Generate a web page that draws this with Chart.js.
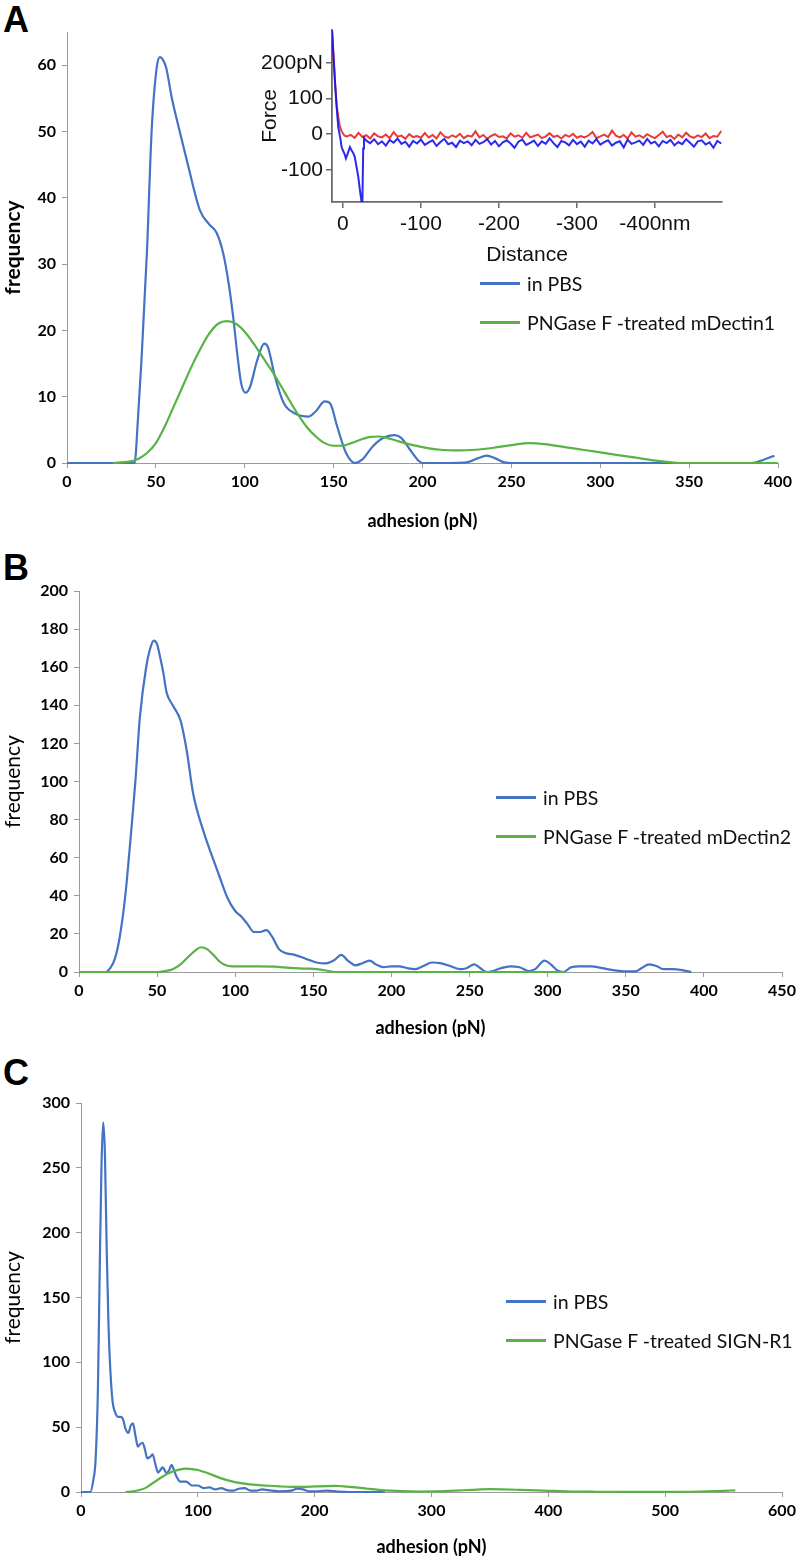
<!DOCTYPE html>
<html>
<head>
<meta charset="utf-8">
<script src="https://cdn.jsdelivr.net/npm/chart.js@4.4.1/dist/chart.umd.min.js"></script>
<style>
  html, body { margin:0; padding:0; background:#fff; }
  body { width:800px; height:1562px; position:relative; overflow:hidden; font-family:Lato, sans-serif; }
  canvas { position:absolute; }
  .letter { position:absolute; left:3px; font:bold 36px "Liberation Sans", Arial, sans-serif; line-height:36px; color:#000; }
  .lg-row { position:absolute; height:22px; line-height:22px; white-space:nowrap; font:19.5px Lato, sans-serif; color:#111; }
  .lg-row i { position:absolute; left:0; top:10px; width:40px; height:3px; }
  .lg-row span { position:absolute; left:47px; top:0; }
</style>
</head>
<body>
<div class="letter" style="top:2px">A</div>
<div class="letter" style="top:550px">B</div>
<div class="letter" style="top:1055px">C</div>
<canvas id="cA" width="800" height="540" style="left:0;top:0"></canvas>
<canvas id="cInset" width="480" height="262" style="left:250px;top:8px"></canvas>
<canvas id="cB" width="800" height="487" style="left:0;top:560px"></canvas>
<canvas id="cC" width="800" height="502" style="left:0;top:1060px"></canvas>
<div id="legends"></div>
<script>
// ---- panel A : mDectin1 ----
const ADH_A_PBS  = [0,38,40,42,45,47.6,50.5,52.3,54,55.8,59,63.6,68,74.8,80,84.2,87.9,91,93.5,96.2,98,100.5,103,107,111,113,117,122,128,136,140,145,148,152,157,162,166,172,178,184,188,193,198,200,215,225,231,236,241,246,250,385,392,398];
const FREQ_A_PBS = [0,0,7,16,32,50,59.7,61.2,60.8,59.6,55,49.8,45,38.1,36,34.7,31.6,27,22,15.5,12,10.6,11.5,15.5,18,17.5,13,9,7.5,7,7.8,9.3,9,5.5,1.5,0,0.5,2.5,3.8,4.2,3.8,2,0.3,0,0,0.1,0.7,1.1,0.7,0.1,0,0,0.5,1.1];
const ADH_A_PNG  = [26,35,40,45,50,55,60,65,70,75,80,85,90,95,100,105,110,115,120,125,130,135,140,145,150,155,160,165,170,175,180,185,190,200,210,220,230,240,250,260,270,280,290,300,310,320,330,340,345,400];
const FREQ_A_PNG = [0,0.2,0.6,1.5,3,5.5,8.5,11.5,14.5,17.2,19.5,21,21.4,21,19.8,18,16,14,11.8,9.5,7.3,5.4,4,3,2.6,2.6,3,3.5,3.9,4,3.8,3.4,3,2.4,2,1.9,2,2.3,2.7,3,2.8,2.4,2,1.6,1.2,0.8,0.4,0.1,0,0];
const LEGEND_A = ['in PBS', 'PNGase F -treated mDectin1'];

// ---- panel B : mDectin2 ----
const ADH_B_PBS  = [0,17,20,23,26,29.5,33,36,39,43,46,48,50,52,54,56,60,65,69,73,80,86,90,95,100,104,108,112,116,120,124,128,132,138,145,152,158,163,168,172,177,181,186,190,195,200,205,210,215,220,226,232,238,244,248,253,257,261,265,270,276,282,288,292,298,302,306,310,315,320,328,335,342,350,356,360,365,370,374,380,386,392];
const FREQ_B_PBS = [0,0,2,7,18,39,70,99,134,160,171,174,172,165,157,147,140,132,116,94,73,59,50,39,32,29,25,21,21,22,18,12,10,9,7,5,4.5,6,9,6,3.5,4.5,6,4,2.5,3,3,2,1.5,3,5,4.5,3,1.5,2,4,2,0,0.5,2,3,2.5,0.5,1.5,6,4,1,0,2.5,3,3,2,1,0.3,0.3,2,4,3,1.5,1.5,1,0];
const ADH_B_PNG  = [0,50,55,60,65,70,74,78,82,86,90,94,98,105,115,125,135,145,152,158,163,312];
const FREQ_B_PNG = [0,0,0.5,1.5,4,8,11,13,12,9,5.5,3.5,3,3,3,2.8,2.2,1.8,1.5,0.8,0,0];
const LEGEND_B = ['in PBS', 'PNGase F -treated mDectin2'];

// ---- panel C : SIGN-R1 ----
const ADH_C_PBS  = [0,8,10.5,12.5,14.5,16,17.5,19,20.5,22,23.5,25,27,29,31.7,34,36,38,40.5,42.5,44.5,46.5,48.7,50.7,52.7,54.7,56.7,59,61.3,63.5,66,68,69.8,71.5,73,75.5,77.5,79.5,81.7,85,90,95,100,105,110,115,120,125,130,135,140,145,150,155,160,170,180,185,190,195,200,210,220,230,260];
const FREQ_C_PBS = [0,0,9,25,80,170,250,285,260,187,130,96,70,62,58,58,56,49,45.5,51,53,44,35,37,38,33,26,27,29,22,15,17,19,17,14.5,17,21,17,12,8,8,5,5,3,3.5,2,3,1.5,1,2.5,3,1,1,2,1.5,0.5,1,2.5,2,0.5,0.5,1,0.3,0,0];
const ADH_C_PNG  = [38,45,50,55,60,65,70,75,80,85,90,95,100,110,120,130,140,150,160,170,180,190,200,210,218,225,235,245,255,265,275,290,305,320,335,350,360,375,390,405,420,440,470,500,530,550,560];
const FREQ_C_PNG = [0,0.5,1.5,3,6,9,12,14.5,16.3,17.5,18,17.7,17,14,10.5,8,6.5,5.5,4.8,4.3,4,4,4.3,4.6,4.7,4.3,3.5,2.5,1.6,1,0.6,0.4,0.5,1,1.7,2.2,2.1,1.7,1.2,0.8,0.4,0.2,0.1,0.1,0.4,0.9,1.3];
const LEGEND_C = ['in PBS', 'PNGase F -treated SIGN-R1'];

// ---- inset : force curves (distance nm, force pN) ----
const INSET_X_TICKS = [0,-100,-200,-300,-400];
const INSET_Y_TICKS = [-100,0,100,200];
const RED_SURF_NM  = [14,12,10,8,6,4,2,0,-2];
const RED_SURF_F   = [292,220,142,80,49,22,10,2,-4];
const BLUE_SURF_NM = [14,12,10,8,6,3,1.7,0,-2,-3.8,-6,-9,-11,-13,-15,-17.5,-19.7,-22,-24,-25,-26,-27];
const BLUE_SURF_F  = [292,215,140,75,20,-15,-36,-45,-55,-68,-55,-36,-45,-52,-62,-92,-120,-160,-191,-191,-40,-10];
const INSET_NM = [-5,-10,-15,-20,-25,-30,-35,-40,-45,-50,-55,-60,-65,-70,-75,-80,-85,-90,-95,-100,
  -105,-110,-115,-120,-125,-130,-135,-140,-145,-150,-155,-160,-165,-170,-175,-180,-185,-190,-195,-200,
  -205,-210,-215,-220,-225,-230,-235,-240,-245,-250,-255,-260,-265,-270,-275,-280,-285,-290,-295,-300,
  -305,-310,-315,-320,-325,-330,-335,-340,-345,-350,-355,-360,-365,-370,-375,-380,-385,-390,-395,-400,
  -405,-410,-415,-420,-425,-430,-435,-440,-445,-450,-455,-460,-465,-470,-475,-480,-485];
const RED_NOISE = [-6,-2,-10,4,-8,-3,-12,2,-6,-9, -1,-11,6,-7,-4,-13,0,-8,-5,-10,
  3,-9,-2,-12,5,-6,-10,-3,-8,1, -11,-4,-7,8,-9,-2,-13,-5,0,-8,
  -6,-12,2,-7,-3,-10,4,-9,-5,-1, -11,-6,3,-8,-4,-12,-2,-7,1,-10,
  -5,-9,-3,6,-11,-6,-1,-8,10,-4, -9,-2,-12,5,-7,-3,-10,0,-6,-11,
  -2,7,-8,-4,-13,-1,-9,4,-6,-10, -3,-8,2,-11,-5,-7,9];
// blue noise starts at -30 nm (INSET_NM index 5)
const BLUE_NOISE = [-18,-25,-14,-28,-20,-32,-16,-24,-12,-27, -21,-35,-19,-26,-15,-30,-23,-17,-33,-22,
  -13,-28,-24,-36,-18,-25,-20,-31,-16,-27, -22,-14,-29,-19,-34,-23,-17,-26,-38,-21,
  -15,-30,-24,-18,-33,-20,-27,-12,-25,-36, -19,-23,-31,-16,-28,-21,-35,-18,-26,-14,
  -29,-22,-17,-32,-24,-20,-37,-15,-27,-23, -18,-30,-13,-26,-21,-34,-19,-25,-16,-31,
  -22,-28,-14,-24,-35,-20,-17,-29,-23,-38, -19,-26];

const BLUE = '#4472C4', GREEN = '#58B244';

function pts(xs, ys){ return xs.map((x,i)=>({x, y:ys[i]})); }

function addLegend(labels, left, top){
  const host = document.getElementById('legends');
  [BLUE, GREEN].forEach((c, i)=>{
    const row = document.createElement('div');
    row.className = 'lg-row';
    row.style.left = left + 'px';
    row.style.top = (top + i*39 - 11) + 'px';
    row.innerHTML = `<i style="background:${c}"></i><span>${labels[i]}</span>`;
    host.appendChild(row);
  });
}

function panel(p){
  const tickFont = {family:'Lato', size:16, weight:'bold'};
  const gray = '#9a9a9a';
  return new Chart(document.getElementById(p.id).getContext('2d'), {
    type:'line',
    data:{ datasets:[
      { label:p.legend[1], data:pts(p.png[0], p.png[1]), borderColor:GREEN, borderWidth:2.2, clip:4 },
      { label:p.legend[0], data:pts(p.pbs[0], p.pbs[1]), borderColor:BLUE, borderWidth:2.2, clip:4 }
    ]},
    options:{
      responsive:false, animation:false, devicePixelRatio:1,
      layout:{ padding:{ top:p.plotTop - p.top, right:800 - p.plotRight, left:0, bottom:0 } },
      plugins:{ legend:{display:false}, tooltip:{enabled:false} },
      elements:{ point:{radius:0}, line:{cubicInterpolationMode:'monotone', fill:false} },
      scales:{
        x:{
          type:'linear', min:0, max:p.xMax,
          ticks:{ stepSize:p.xStep, font:tickFont, color:'#000', padding:4, maxRotation:0, autoSkip:false },
          grid:{ drawOnChartArea:false, tickLength:5, color:gray },
          border:{ color:gray },
          title:{ display:true, text:'adhesion (pN)', color:'#000', font:{family:'Lato', size:18, weight:'bold'}, padding:{top:0, bottom:p.titlePad} },
          afterBuildTicks: s => { s.ticks = s.ticks.filter(t => t.value % p.xStep === 0); },
          afterFit: s => { s.height = p.top + p.h - p.plotBottom; }
        },
        y:{
          min:0, max:p.yMax,
          ticks:{ stepSize:p.yStep, font:tickFont, color:'#000', padding:6, autoSkip:false },
          grid:{ drawOnChartArea:false, tickLength:5, color:gray },
          border:{ color:gray },
          title:{ display:true, text:'frequency', color:'#000', font:{family:'Lato', size:21, weight:p.yBold ? 'bold' : 'normal'}, padding:{top:1, bottom:0} },
          afterBuildTicks: s => { s.ticks = s.ticks.filter(t => t.value % p.yStep === 0); },
          afterFit: s => { s.width = p.plotLeft; }
        }
      }
    }
  });
}

panel({ id:'cA', top:0, h:540, plotLeft:67, plotRight:778, plotTop:32, plotBottom:463, xMax:400, xStep:50, yMax:65, yStep:10, titlePad:8, yBold:true,
  pbs:[ADH_A_PBS, FREQ_A_PBS], png:[ADH_A_PNG, FREQ_A_PNG], legend:LEGEND_A });
panel({ id:'cB', top:560, h:487, plotLeft:79, plotRight:782, plotTop:591, plotBottom:972, xMax:450, xStep:50, yMax:200, yStep:20, titlePad:8, yBold:false,
  pbs:[ADH_B_PBS, FREQ_B_PBS], png:[ADH_B_PNG, FREQ_B_PNG], legend:LEGEND_B });
panel({ id:'cC', top:1060, h:502, plotLeft:81, plotRight:782, plotTop:1103, plotBottom:1492, xMax:600, xStep:100, yMax:300, yStep:50, titlePad:4, yBold:false,
  pbs:[ADH_C_PBS, FREQ_C_PBS], png:[ADH_C_PNG, FREQ_C_PNG], legend:LEGEND_C });

addLegend(LEGEND_A, 480, 283);
addLegend(LEGEND_B, 496, 797);
addLegend(LEGEND_C, 506, 1301);

// ---- inset ----
const redData  = pts(RED_SURF_NM, RED_SURF_F).concat(pts(INSET_NM, RED_NOISE));
const blueData = pts(BLUE_SURF_NM, BLUE_SURF_F).concat(pts(INSET_NM.slice(5), BLUE_NOISE));
const insetFont = {family:'"Liberation Sans", Arial, sans-serif', size:21};
const dark = '#6a6a6a';
new Chart(document.getElementById('cInset').getContext('2d'), {
  type:'line',
  data:{ datasets:[
    { label:'retract', data:blueData, borderColor:'rgba(20,20,235,0.9)', borderWidth:2, tension:0 },
    { label:'approach', data:redData, borderColor:'rgba(228,24,24,0.85)', borderWidth:2, tension:0 }
  ]},
  options:{
    responsive:false, animation:false, devicePixelRatio:1,
    layout:{ padding:{ top:22, right:8, left:0, bottom:0 } },
    plugins:{ legend:{display:false}, tooltip:{enabled:false} },
    elements:{ point:{radius:0} },
    scales:{
      x:{
        type:'linear', reverse:true, min:-486, max:14,
        ticks:{ font:insetFont, color:'#111', padding:4, maxRotation:0, autoSkip:false,
          callback: v => v === -400 ? '-400nm' : String(v) },
        grid:{ drawOnChartArea:false, tickLength:6, color:dark, lineWidth:1.5 },
        border:{ color:dark, width:1.8 },
        title:{ display:true, text:'Distance', color:'#111', font:insetFont, padding:{top:0, bottom:2} },
        afterBuildTicks: s => { s.ticks = INSET_X_TICKS.map(v => ({value:v})); },
        afterFit: s => { s.height = 68; }
      },
      y:{
        min:-190, max:292,
        ticks:{ font:insetFont, color:'#111', padding:3, autoSkip:false,
          callback: v => v === 200 ? '200pN' : String(v) },
        grid:{ drawOnChartArea:false, tickLength:6, color:dark, lineWidth:1.5 },
        border:{ color:dark, width:1.8 },
        title:{ display:true, text:'Force', color:'#111', font:insetFont, padding:{top:8, bottom:0} },
        afterBuildTicks: s => { s.ticks = INSET_Y_TICKS.map(v => ({value:v})); },
        afterFit: s => { s.width = 82; }
      }
    }
  }
});
</script>
</body>
</html>
